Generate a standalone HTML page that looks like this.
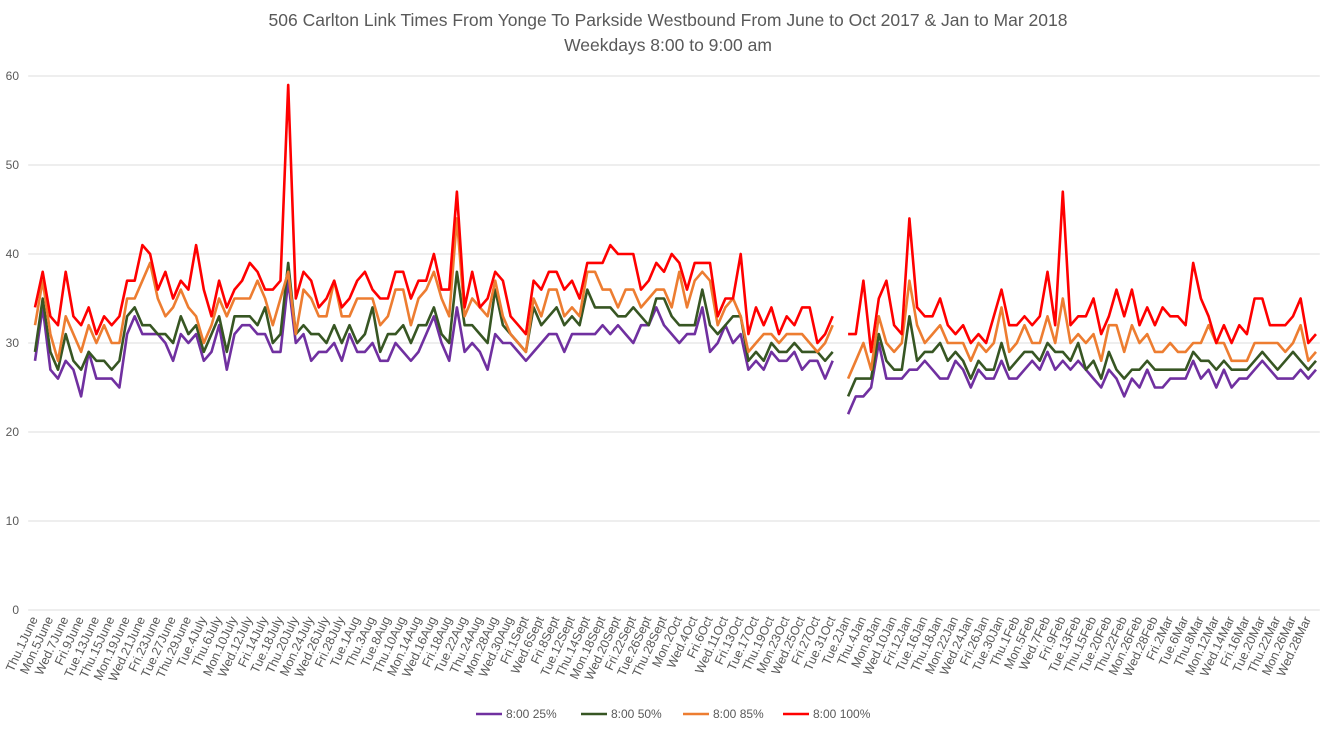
<!DOCTYPE html>
<html><head><meta charset="utf-8">
<style>
html,body{margin:0;padding:0;background:#fff;}
svg{display:block;font-family:"Liberation Sans",sans-serif;}
</style></head>
<body>
<svg id="chart" width="1324" height="731" viewBox="0 0 1324 731" xmlns="http://www.w3.org/2000/svg">
<text x="668" y="26" text-anchor="middle" font-size="17.5" fill="#595959">506 Carlton Link Times From Yonge To Parkside Westbound From June to Oct 2017 &amp; Jan to Mar 2018</text>
<text x="668" y="51" text-anchor="middle" font-size="17.5" fill="#595959">Weekdays 8:00 to 9:00 am</text>
<g id="grid"></g><g id="yticks"></g><g id="xticks"></g><g id="series"></g><g id="legend"></g>
</svg>
<script>
const tickLabels = ["Thu.1June","Mon.5June","Wed.7June","Fri.9June","Tue.13June","Thu.15June","Mon.19June","Wed.21June","Fri.23June","Tue.27June","Thu.29June","Tue.4July","Thu.6July","Mon.10July","Wed.12July","Fri.14July","Tue.18July","Thu.20July","Mon.24July","Wed.26July","Fri.28July","Tue.1Aug","Thu.3Aug","Tue.8Aug","Thu.10Aug","Mon.14Aug","Wed.16Aug","Fri.18Aug","Tue.22Aug","Thu.24Aug","Mon.28Aug","Wed.30Aug","Fri.1Sept","Wed.6Sept","Fri.8Sept","Tue.12Sept","Thu.14Sept","Mon.18Sept","Wed.20Sept","Fri.22Sept","Tue.26Sept","Thu.28Sept","Mon.2Oct","Wed.4Oct","Fri.6Oct","Wed.11Oct","Fri.13Oct","Tue.17Oct","Thu.19Oct","Mon.23Oct","Wed.25Oct","Fri.27Oct","Tue.31Oct","Tue.2Jan","Thu.4Jan","Mon.8Jan","Wed.10Jan","Fri.12Jan","Tue.16Jan","Thu.18Jan","Mon.22Jan","Wed.24Jan","Fri.26Jan","Tue.30Jan","Thu.1Feb","Mon.5Feb","Wed.7Feb","Fri.9Feb","Tue.13Feb","Thu.15Feb","Tue.20Feb","Thu.22Feb","Mon.26Feb","Wed.28Feb","Fri.2Mar","Tue.6Mar","Thu.8Mar","Mon.12Mar","Wed.14Mar","Fri.16Mar","Tue.20Mar","Thu.22Mar","Mon.26Mar","Wed.28Mar"];
const yTicks = [0,10,20,30,40,50,60];
const seriesNames = ["8:00 25%","8:00 50%","8:00 85%","8:00 100%"];
const p25 = [28,34,27,26,28,27,24,29,26,26,26,25,31,33,31,31,31,30,28,31,30,31,28,29,32,27,31,32,
32,31,31,29,29,37,30,31,28,29,29,30,28,31,29,29,30,28,28,30,29,28,29,31,33,30,28,34,
29,30,29,27,31,30,30,29,28,29,30,31,31,29,31,31,31,31,32,31,32,31,30,32,32,34,32,31,
30,31,31,34,29,30,32,30,31,27,28,27,29,28,28,29,27,28,28,26,28,null,
22,24,24,25,30,26,26,26,27,27,28,27,26,26,28,27,25,27,26,26,28,26,26,27,28,27,29,27,28,27,28,27,26,25,
27,26,24,26,25,27,25,25,26,26,26,28,26,27,25,27,25,26,26,27,28,27,26,26,26,27,26,27];
const p50 = [29,35,29,27,31,28,27,29,28,28,27,28,33,34,32,32,31,31,30,33,31,32,29,31,33,29,33,33,
33,32,34,30,31,39,31,32,31,31,30,32,30,32,30,31,34,29,31,31,32,30,32,32,34,31,30,38,
32,32,31,30,36,32,31,30,29,34,32,33,34,32,33,32,36,34,34,34,33,33,34,33,32,35,35,33,
32,32,32,36,32,31,32,33,33,28,29,28,30,29,29,30,29,29,29,28,29,null,
24,26,26,26,31,28,27,27,33,28,29,29,30,28,29,28,26,28,27,27,30,27,28,29,29,28,30,29,29,28,30,27,28,26,
29,27,26,27,27,28,27,27,27,27,27,29,28,28,27,28,27,27,27,28,29,28,27,28,29,28,27,28];
const p85 = [32,37,31,28,33,31,29,32,30,32,30,30,35,35,37,39,35,33,34,36,34,33,30,32,35,33,35,35,
35,37,35,32,35,38,31,36,35,33,33,37,33,33,35,35,35,32,33,36,36,32,35,36,38,35,33,44,
33,35,34,33,37,33,31,30,29,35,33,36,36,33,34,33,38,38,36,36,34,36,36,34,35,36,36,34,
38,34,37,38,37,32,34,35,33,29,30,31,31,30,31,31,31,30,29,30,32,null,
26,28,30,27,33,30,29,30,37,32,30,31,32,30,30,30,28,30,29,30,34,29,30,32,30,30,33,30,35,30,31,30,31,28,
32,32,29,32,30,31,29,29,30,29,29,30,30,32,30,30,28,28,28,30,30,30,30,29,30,32,28,29];
const p100 = [34,38,33,32,38,33,32,34,31,33,32,33,37,37,41,40,36,38,35,37,36,41,36,33,37,34,36,37,
39,38,36,36,37,59,35,38,37,34,35,37,34,35,37,38,36,35,35,38,38,35,37,37,40,36,36,47,
34,38,34,35,38,37,33,32,31,37,36,38,38,36,37,35,39,39,39,41,40,40,40,36,37,39,38,40,
39,36,39,39,39,33,35,35,40,31,34,32,34,31,33,32,34,34,30,31,33,null,
31,31,37,29,35,37,32,31,44,34,33,33,35,32,31,32,30,31,30,33,36,32,32,33,32,33,38,32,47,32,33,33,35,31,
33,36,33,36,32,34,32,34,33,33,32,39,35,33,30,32,30,32,31,35,35,32,32,32,33,35,30,31];

const NS="http://www.w3.org/2000/svg";
const allSeries=[p25,p50,p85,p100];
const colors=["#7030A0","#375623","#ED7D31","#FF0000"];
const nCat=p25.length;
const L=31.2, R=1319.8, Y0=610, Y60=76;
const bw=(R-L)/nCat;
function xs(i){return L+(i+0.5)*bw;}
function ys(v){return Y0-(v/60)*(Y0-Y60);}
function mk(tag,attrs,parent){const e=document.createElementNS(NS,tag);for(const k in attrs)e.setAttribute(k,attrs[k]);parent.appendChild(e);return e;}
const grid=document.getElementById('grid'), yt=document.getElementById('yticks'), xt=document.getElementById('xticks'), sg=document.getElementById('series'), lg=document.getElementById('legend');
yTicks.forEach(v=>{
  const ln=mk('line',{x1:L-3,x2:R,y1:ys(v),y2:ys(v),stroke:'#dcdcdc','stroke-width':1},grid);
  
  
  const t=mk('text',{x:19,y:ys(v)+4,'text-anchor':'end','font-size':12,fill:'#595959'},yt);
  t.textContent=v;
  
  
});
tickLabels.forEach((lab,k)=>{
  const i=k*2; const x=xs(i)+3, y=619;
  const t=mk('text',{x:x,y:y,'text-anchor':'end','font-size':12.5,fill:'#595959',transform:`rotate(-65 ${x} ${y})`},xt);
  t.textContent=lab;
  
  
});
allSeries.forEach((arr,s)=>{
  let d='',pen=false;
  arr.forEach((v,i)=>{
    if(v===null){pen=false;return;}
    d+=(pen?'L':'M')+xs(i).toFixed(1)+' '+ys(v).toFixed(1)+' ';pen=true;
  });
  const p=mk('path',{d:d,fill:'none',stroke:colors[s],'stroke-width':2.6,'stroke-linejoin':'round'},sg);
  
  
});
const legX=[476,581,683,783];
seriesNames.forEach((nm,s)=>{
  const g=mk('g',{},lg);
  
  
  mk('line',{x1:legX[s],x2:legX[s]+26,y1:714,y2:714,stroke:colors[s],'stroke-width':2.6},g);
  const t=mk('text',{x:legX[s]+30,y:718,'font-size':12,fill:'#595959'},g);
  t.textContent=nm;
});
</script>
</body></html>
